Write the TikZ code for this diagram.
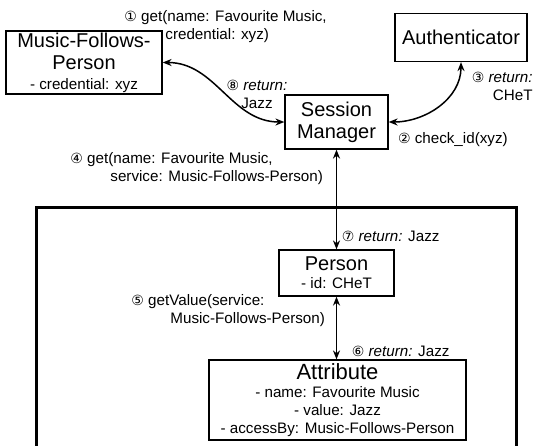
\documentclass[tikz,border=0pt]{standalone}
\usepackage{fontspec}
\setmainfont{Liberation Sans}
\newfontfamily\circfont{DejaVu Sans}
\usetikzlibrary{arrows.meta, positioning}

\newcommand\boxfont{\fontsize{10}{11}\selectfont}
\newcommand\notefont{\fontsize{7.6}{9}\selectfont}
\newcommand\attrfont{\fontsize{11}{12}\selectfont}
\newcommand\stepnum[1]{{\circfont\fontsize{7}{8}\selectfont#1}}

\begin{document}
\begin{tikzpicture}[
    x=0.5pt, y=0.5pt,
    box/.style={draw, rectangle, line width=0.6pt, inner sep=0pt, align=center, font=\boxfont},
    note/.style={inner sep=0pt, align=left, font=\notefont},
    arrow/.style={{Stealth[length=4.5pt,width=3.5pt]}-{Stealth[length=4.5pt,width=3.5pt]}, line width=0.75pt},
    frame/.style={draw, line width=1.5pt}
]
\useasboundingbox (0,0) rectangle (535,-445);
\clip (0,0) rectangle (535,-445);

% Services
\node[box, minimum width=78pt, minimum height=31.5pt] (mfp) at (84,-62.5)
    {Music-Follows-\\Person\\[-1pt]{\notefont - credential: xyz}};
\node[box, minimum width=66pt, minimum height=24pt] (auth) at (461,-37.5) {Authenticator};
\node[box, minimum width=51.5pt, minimum height=27pt] (sm) at (336.5,-122) {Session\\Manager};

% Store
\draw[frame] (36,-207) rectangle (516,-470);
\node[box, minimum width=57.5pt, minimum height=23pt] (person) at (336.5,-273)
    {Person\\[-2pt]{\notefont - id: CHeT}};
\node[box, font=\notefont, minimum width=128.5pt, minimum height=40pt] (attr) at (337.5,-400)
    {{\attrfont Attribute}\\- name: Favourite Music\\- value: Jazz\\- accessBy: Music-Follows-Person};

% Arrows
\draw[arrow] (mfp.east) to[out=0, in=180] (sm.west);
\draw[arrow] (sm.east) to[out=0, in=-90] (auth.south);
\foreach \a/\b in {sm/person, person/attr}
    \draw[arrow] (\a.south) -- (\a.south |- \b.north);

% Call labels
\node[note, anchor=west] (call1) at (124,-26.5)
    {\stepnum{①} get(name: Favourite Music,\\\hspace*{20.5pt}credential: xyz)};
\node[note, above right=1.5pt and 4.5pt of sm.south east] (call2) {\stepnum{②} check\_id(xyz)};
\node[note, anchor=east, align=right] (call3) at (533,-86.5)
    {\stepnum{③} \textit{return:}\\CHeT};
\node[note, anchor=west] (call4) at (70,-169)
    {\stepnum{④} get(name: Favourite Music,\\\hspace*{20pt}service: Music-Follows-Person)};
\node[note, anchor=west] (call5) at (131,-310.5)
    {\stepnum{⑤} getValue(service:\\\hspace*{19.5pt}Music-Follows-Person)};
\node[note, above right=1pt and 7pt of attr.north] (call6) {\stepnum{⑥} \textit{return:} Jazz};
\node[note, above right=3.5pt and 2.5pt of person.north] (call7) {\stepnum{⑦} \textit{return:} Jazz};
\node[note, align=center] (call8) at (257,-94) {\stepnum{⑧} \textit{return:}\\Jazz};

\end{tikzpicture}
\end{document}
